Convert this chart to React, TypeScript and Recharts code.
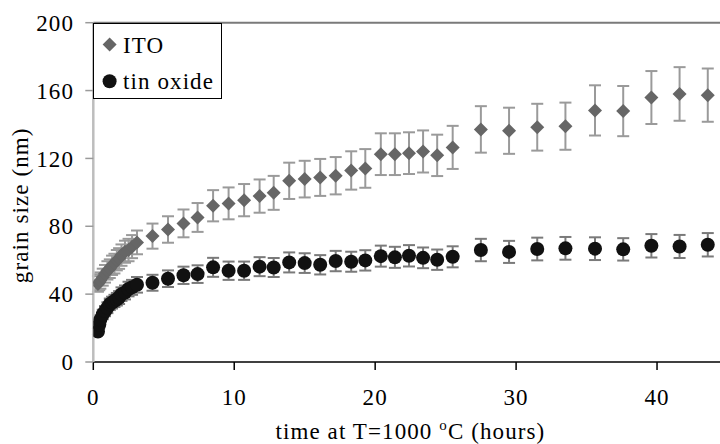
import React from "react";
import {
  ScatterChart,
  Scatter,
  XAxis,
  YAxis,
  ErrorBar,
  ReferenceLine,
  Legend,
} from "recharts";

// time at 1000 C, hours (same sampling for both films)
const hours = [
  0.33, 0.42, 0.5, 0.67, 0.83, 1.0, 1.17, 1.33, 1.5, 1.67, 1.83, 2.0, 2.25, 2.5, 2.75,
  3.1, 4.2, 5.3, 6.4, 7.4, 8.5, 9.6, 10.7, 11.8, 12.8, 13.9, 15.0, 16.1, 17.2, 18.3,
  19.3, 20.4, 21.4, 22.4, 23.4, 24.4, 25.5,
  27.5, 29.5, 31.5, 33.5, 35.6, 37.6, 39.6, 41.6, 43.6,
];

// grain size, nm
const itoSize = [
  46, 47, 48, 50, 52, 54, 55, 57, 58, 60, 61, 63, 65, 66, 68,
  70.5, 74.2, 78.1, 81.7, 85.2, 92.1, 93.5, 95.4, 97.8, 99.7, 106.8, 107.8, 108.8, 109.8, 112.9,
  114.1, 122.5, 122.5, 123.1, 124.1, 121.8, 126.5,
  137.1, 136.3, 138.4, 139, 148.3, 147.9, 155.9, 158, 157.3,
];
const itoErr = [
  4.6, 4.7, 4.8, 5, 5.2, 5.4, 5.5, 5.7, 5.8, 6, 6.1, 6.3, 6.5, 6.6, 6.8,
  7, 7.4, 7.8, 8.2, 8.5, 9.2, 9.4, 9.5, 9.8, 10, 10.7, 10.8, 10.9, 11, 11.3,
  11.4, 12.3, 12.3, 12.3, 12.4, 12.2, 12.7,
  13.7, 13.6, 13.8, 13.9, 14.8, 14.8, 15.6, 15.8, 15.7,
];

const tinSize = [
  18, 22, 25, 28, 30, 32, 34, 35, 36, 37, 38, 40, 41, 43, 44,
  45.5, 46.7, 49.1, 51.1, 51.8, 55.8, 53.8, 53.8, 56.2, 55.7, 58.7, 58.3, 57.3, 59.5, 59.1,
  59.9, 62.4, 61.7, 62.6, 61.4, 60.3, 62.0,
  66.0, 64.9, 66.6, 67, 66.8, 66.4, 68.5, 68.1, 69.1,
];
const tinErr = [
  1.8, 2.2, 2.5, 2.8, 3, 3.2, 3.4, 3.5, 3.6, 3.7, 3.8, 4, 4.1, 4.3, 4.4,
  4.6, 4.7, 4.9, 5.1, 5.2, 5.6, 5.4, 5.4, 5.6, 5.6, 5.9, 5.8, 5.7, 6, 5.9,
  6, 6.2, 6.2, 6.3, 6.1, 6, 6.2,
  6.6, 6.5, 6.7, 6.7, 6.7, 6.6, 6.9, 6.8, 6.9,
];

const xTicks = [0, 10, 20, 30, 40];
const yTicks = [0, 40, 80, 120, 160, 200];

const itoData = hours.map((t, i) => ({ t, v: itoSize[i], err: itoErr[i] }));
const tinData = hours.map((t, i) => ({ t, v: tinSize[i], err: tinErr[i] }));

const FONT = '"Liberation Serif", "Times New Roman", serif';
const ITO_FILL = "#666666";
const TIN_FILL = "#111111";

const diamondPath = (cx: number, cy: number, r: number) =>
  `M${cx},${cy - r}L${cx + r},${cy}L${cx},${cy + r}L${cx - r},${cy}Z`;

const DiamondDot = (p: any) => <path d={diamondPath(p.cx, p.cy, 7)} fill={ITO_FILL} />;
const CircleDot = (p: any) => <circle cx={p.cx} cy={p.cy} r={7} fill={TIN_FILL} />;

const LegendBox = ({ payload }: any) => (
  <div
    style={{
      width: 129,
      height: 76,
      border: "1px solid #000",
      background: "#fff",
      boxSizing: "border-box",
    }}
  >
    <svg width={127} height={74} style={{ display: "block" }}>
      {(payload || []).map((e: any, i: number) => {
        const cy = 20.6 + i * 36.7;
        return (
          <g key={e.value}>
            {e.type === "diamond" ? (
              <path d={diamondPath(15.6, cy, 7)} fill={ITO_FILL} />
            ) : (
              <circle cx={15.6} cy={cy} r={7} fill={TIN_FILL} />
            )}
            <text x={29} y={cy + 8} fontFamily={FONT} fontSize={23} letterSpacing={1.1} fill="#000">
              {e.value}
            </text>
          </g>
        );
      })}
    </svg>
  </div>
);

const YTitle = ({ viewBox }: any) => {
  const x = viewBox.x + 28.3;
  const y = viewBox.y + viewBox.height / 2 + 13;
  return (
    <text
      x={x}
      y={y}
      transform={`rotate(-90 ${x} ${y})`}
      textAnchor="middle"
      fontFamily={FONT}
      fontSize={23}
      letterSpacing={1.1}
      fill="#000"
    >
      grain size (nm)
    </text>
  );
};

const XTitle = ({ viewBox }: any) => (
  <text
    x={viewBox.x + viewBox.width / 2}
    y={viewBox.y + 76.5}
    textAnchor="middle"
    fontFamily={FONT}
    fontSize={23}
    letterSpacing={1.1}
    fill="#000"
  >
    time at T=1000{" "}
    <tspan fontSize={15} dy={-9}>o</tspan>
    <tspan dy={9}>C (hours)</tspan>
  </text>
);

const tickStyle = { fontFamily: FONT, fontSize: 23, fill: "#000", letterSpacing: 1.1 };

export default function App() {
  return (
    <div
      style={{
        position: "absolute",
        left: 0,
        top: 0,
        width: 720,
        height: 444,
        overflow: "hidden",
        background: "#fff",
      }}
    >
      <ScatterChart
        width={737.5}
        height={444}
        margin={{ top: 22.7, right: 10, left: 0, bottom: 0 }}
      >
        <XAxis
          type="number"
          dataKey="t"
          domain={[0, 45]}
          ticks={xTicks}
          allowDataOverflow
          height={82}
          stroke="#000"
          strokeWidth={1.5}
          tickSize={8}
          tickMargin={19}
          tick={tickStyle}
          label={<XTitle />}
        />
        <YAxis
          type="number"
          dataKey="v"
          domain={[0, 200]}
          ticks={yTicks}
          width={93.3}
          axisLine={{ stroke: "#bdbdbd", strokeWidth: 2.5 }}
          tickLine={{ stroke: "#9a9a9a", strokeWidth: 1.5 }}
          tickSize={8}
          tickMargin={11.3}
          tick={tickStyle}
          label={<YTitle />}
        />
        <ReferenceLine y={200} stroke="#7a7a7a" strokeWidth={2} />
        <Scatter
          name="ITO"
          data={itoData}
          fill={ITO_FILL}
          legendType="diamond"
          shape={DiamondDot}
          isAnimationActive={false}
        >
          <ErrorBar dataKey="err" direction="y" width={6} stroke="#9a9a9a" strokeWidth={2} />
        </Scatter>
        <Scatter
          name="tin oxide"
          data={tinData}
          fill={TIN_FILL}
          legendType="circle"
          shape={CircleDot}
          isAnimationActive={false}
        >
          <ErrorBar dataKey="err" direction="y" width={6} stroke="#7a7a7a" strokeWidth={2} />
        </Scatter>
        <Legend
          layout="vertical"
          align="center"
          verticalAlign="middle"
          content={<LegendBox />}
          wrapperStyle={{ left: 92.7, top: 22.7, width: 129, height: 76 }}
        />
      </ScatterChart>
    </div>
  );
}
